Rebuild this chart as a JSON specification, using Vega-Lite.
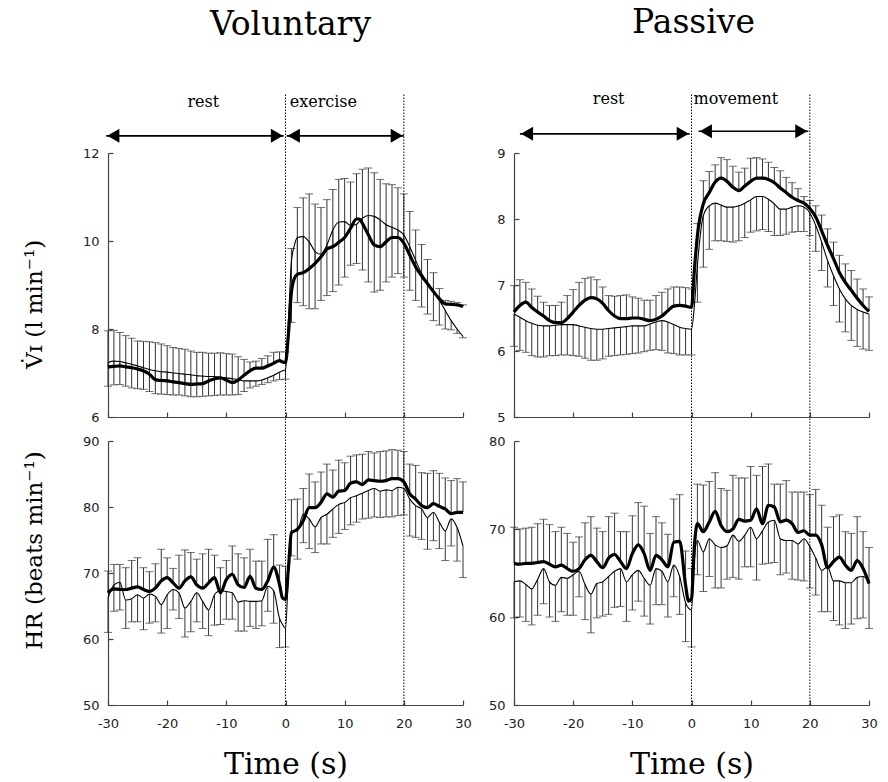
{
"$schema": "https://vega.github.io/schema/vega-lite/v6.json",
"padding": {"left": 22, "top": 7, "right": 5, "bottom": 0},
"background": "white",
"columns": 2,
"spacing": {"row": 24, "column": 51},
"bounds": "flush",
"datasets": {
"d": [
{"p":"VV","t":-30,"a":7.14,"au":7.96,"b":7.24,"bl":6.70},
{"p":"VV","t":-29,"a":7.15,"au":7.97,"b":7.27,"bl":6.73},
{"p":"VV","t":-28,"a":7.16,"au":7.92,"b":7.26,"bl":6.74},
{"p":"VV","t":-27,"a":7.14,"au":7.85,"b":7.23,"bl":6.70},
{"p":"VV","t":-26,"a":7.12,"au":7.79,"b":7.20,"bl":6.66},
{"p":"VV","t":-25,"a":7.09,"au":7.73,"b":7.16,"bl":6.64},
{"p":"VV","t":-24,"a":7.05,"au":7.72,"b":7.12,"bl":6.63},
{"p":"VV","t":-23,"a":6.97,"au":7.71,"b":7.08,"bl":6.58},
{"p":"VV","t":-22,"a":6.85,"au":7.69,"b":7.05,"bl":6.53},
{"p":"VV","t":-21,"a":6.83,"au":7.66,"b":7.03,"bl":6.52},
{"p":"VV","t":-20,"a":6.82,"au":7.62,"b":7.02,"bl":6.51},
{"p":"VV","t":-19,"a":6.80,"au":7.58,"b":7.00,"bl":6.50},
{"p":"VV","t":-18,"a":6.78,"au":7.56,"b":6.99,"bl":6.50},
{"p":"VV","t":-17,"a":6.76,"au":7.54,"b":6.97,"bl":6.48},
{"p":"VV","t":-16,"a":6.74,"au":7.50,"b":6.96,"bl":6.46},
{"p":"VV","t":-15,"a":6.75,"au":7.47,"b":6.94,"bl":6.46},
{"p":"VV","t":-14,"a":6.76,"au":7.47,"b":6.93,"bl":6.47},
{"p":"VV","t":-13,"a":6.82,"au":7.45,"b":6.92,"bl":6.48},
{"p":"VV","t":-12,"a":6.87,"au":7.45,"b":6.92,"bl":6.49},
{"p":"VV","t":-11,"a":6.89,"au":7.46,"b":6.90,"bl":6.50},
{"p":"VV","t":-10,"a":6.84,"au":7.44,"b":6.89,"bl":6.50},
{"p":"VV","t":-9,"a":6.78,"au":7.43,"b":6.87,"bl":6.50},
{"p":"VV","t":-8,"a":6.84,"au":7.37,"b":6.85,"bl":6.51},
{"p":"VV","t":-7,"a":6.95,"au":7.31,"b":6.82,"bl":6.58},
{"p":"VV","t":-6,"a":7.05,"au":7.25,"b":6.82,"bl":6.66},
{"p":"VV","t":-5,"a":7.11,"au":7.27,"b":6.82,"bl":6.70},
{"p":"VV","t":-4,"a":7.11,"au":7.33,"b":6.84,"bl":6.74},
{"p":"VV","t":-3,"a":7.16,"au":7.39,"b":6.89,"bl":6.78},
{"p":"VV","t":-2,"a":7.22,"au":7.47,"b":6.95,"bl":6.82},
{"p":"VV","t":-1,"a":7.28,"au":7.48,"b":7.02,"bl":6.85},
{"p":"VV","t":-0.5,"a":7.25,"b":7.05},
{"p":"VV","t":0,"a":7.24,"au":7.48,"b":7.07,"bl":6.86},
{"p":"VV","t":0.5,"a":7.9,"b":8.2},
{"p":"VV","t":1,"a":8.84,"au":9.83,"b":9.53,"bl":8.15},
{"p":"VV","t":1.5,"a":9.15,"b":9.9},
{"p":"VV","t":2,"a":9.24,"au":10.76,"b":10.08,"bl":8.6},
{"p":"VV","t":3,"a":9.28,"au":10.98,"b":10.1,"bl":8.53},
{"p":"VV","t":4,"a":9.37,"au":11.07,"b":9.98,"bl":8.46},
{"p":"VV","t":5,"a":9.49,"au":10.84,"b":9.76,"bl":8.46},
{"p":"VV","t":6,"a":9.64,"au":10.76,"b":9.7,"bl":8.65},
{"p":"VV","t":7,"a":9.82,"au":10.94,"b":9.91,"bl":8.76},
{"p":"VV","t":8,"a":9.87,"au":11.17,"b":10.25,"bl":8.85},
{"p":"VV","t":9,"a":9.97,"au":11.40,"b":10.43,"bl":9.0},
{"p":"VV","t":10,"a":10.08,"au":11.42,"b":10.44,"bl":9.18},
{"p":"VV","t":11,"a":10.29,"au":11.34,"b":10.35,"bl":9.45},
{"p":"VV","t":12,"a":10.50,"au":11.53,"b":10.38,"bl":9.49},
{"p":"VV","t":12.5,"a":10.5,"b":10.45},
{"p":"VV","t":13,"a":10.4,"au":11.63,"b":10.52,"bl":9.34},
{"p":"VV","t":14,"a":10.14,"au":11.66,"b":10.58,"bl":9.07},
{"p":"VV","t":15,"a":9.91,"au":11.55,"b":10.56,"bl":8.84},
{"p":"VV","t":16,"a":9.87,"au":11.40,"b":10.48,"bl":8.88},
{"p":"VV","t":17,"a":9.98,"au":11.30,"b":10.37,"bl":9.07},
{"p":"VV","t":18,"a":10.08,"au":11.28,"b":10.31,"bl":9.18},
{"p":"VV","t":19,"a":10.08,"au":11.21,"b":10.25,"bl":9.26},
{"p":"VV","t":20,"a":9.95,"au":11.07,"b":10.14,"bl":9.18},
{"p":"VV","t":21,"a":9.68,"au":10.67,"b":9.87,"bl":8.88},
{"p":"VV","t":22,"a":9.41,"au":10.25,"b":9.56,"bl":8.65},
{"p":"VV","t":23,"a":9.21,"au":9.92,"b":9.26,"bl":8.50},
{"p":"VV","t":24,"a":9.03,"au":9.58,"b":9.03,"bl":8.34},
{"p":"VV","t":25,"a":8.85,"au":9.28,"b":8.84,"bl":8.19},
{"p":"VV","t":26,"a":8.69,"au":8.92,"b":8.65,"bl":8.09},
{"p":"VV","t":27,"a":8.57,"au":8.65,"b":8.42,"bl":8.0},
{"p":"VV","t":28,"a":8.56,"au":8.63,"b":8.19,"bl":7.98},
{"p":"VV","t":29,"a":8.55,"au":8.6,"b":8.0,"bl":7.9},
{"p":"VV","t":30,"a":8.51,"au":8.55,"b":7.83,"bl":7.8},
{"p":"PV","t":-30,"a":6.59,"au":6.99,"b":6.56,"bl":6.07},
{"p":"PV","t":-29,"a":6.69,"au":7.08,"b":6.51,"bl":6.01},
{"p":"PV","t":-28,"a":6.74,"au":7.04,"b":6.46,"bl":5.98},
{"p":"PV","t":-27,"a":6.66,"au":6.94,"b":6.42,"bl":5.93},
{"p":"PV","t":-26,"a":6.59,"au":6.83,"b":6.39,"bl":5.91},
{"p":"PV","t":-25,"a":6.53,"au":6.74,"b":6.38,"bl":5.91},
{"p":"PV","t":-24,"a":6.46,"au":6.69,"b":6.38,"bl":5.93},
{"p":"PV","t":-23,"a":6.43,"au":6.69,"b":6.39,"bl":5.93},
{"p":"PV","t":-22,"a":6.43,"au":6.74,"b":6.40,"bl":5.94},
{"p":"PV","t":-21,"a":6.49,"au":6.84,"b":6.40,"bl":5.94},
{"p":"PV","t":-20,"a":6.59,"au":6.93,"b":6.40,"bl":5.93},
{"p":"PV","t":-19,"a":6.69,"au":7.04,"b":6.38,"bl":5.92},
{"p":"PV","t":-18,"a":6.77,"au":7.10,"b":6.36,"bl":5.89},
{"p":"PV","t":-17,"a":6.81,"au":7.12,"b":6.34,"bl":5.86},
{"p":"PV","t":-16,"a":6.79,"au":7.08,"b":6.33,"bl":5.86},
{"p":"PV","t":-15,"a":6.72,"au":6.97,"b":6.33,"bl":5.88},
{"p":"PV","t":-14,"a":6.61,"au":6.84,"b":6.34,"bl":5.92},
{"p":"PV","t":-13,"a":6.53,"au":6.83,"b":6.35,"bl":5.93},
{"p":"PV","t":-12,"a":6.49,"au":6.84,"b":6.36,"bl":5.94},
{"p":"PV","t":-11,"a":6.49,"au":6.85,"b":6.37,"bl":5.95},
{"p":"PV","t":-10,"a":6.50,"au":6.82,"b":6.38,"bl":5.96},
{"p":"PV","t":-9,"a":6.50,"au":6.80,"b":6.38,"bl":5.97},
{"p":"PV","t":-8,"a":6.48,"au":6.77,"b":6.38,"bl":5.99},
{"p":"PV","t":-7,"a":6.46,"au":6.77,"b":6.41,"bl":6.01},
{"p":"PV","t":-6,"a":6.48,"au":6.84,"b":6.44,"bl":6.02},
{"p":"PV","t":-5,"a":6.53,"au":6.89,"b":6.46,"bl":6.01},
{"p":"PV","t":-4,"a":6.61,"au":6.94,"b":6.44,"bl":5.97},
{"p":"PV","t":-3,"a":6.68,"au":6.97,"b":6.40,"bl":5.96},
{"p":"PV","t":-2,"a":6.69,"au":6.97,"b":6.36,"bl":5.94},
{"p":"PV","t":-1,"a":6.68,"au":6.96,"b":6.34,"bl":5.94},
{"p":"PV","t":0,"a":6.66,"au":6.94,"b":6.33,"bl":5.94},
{"p":"PV","t":0.5,"a":7.24,"b":6.7},
{"p":"PV","t":1,"a":7.75,"au":7.93,"b":7.30,"bl":6.74},
{"p":"PV","t":2,"a":8.23,"au":8.58,"b":8.05,"bl":7.27},
{"p":"PV","t":3,"a":8.40,"au":8.72,"b":8.20,"bl":7.54},
{"p":"PV","t":4,"a":8.56,"au":8.82,"b":8.24,"bl":7.67},
{"p":"PV","t":5,"a":8.62,"au":8.93,"b":8.21,"bl":7.67},
{"p":"PV","t":6,"a":8.57,"au":8.90,"b":8.18,"bl":7.66},
{"p":"PV","t":7,"a":8.48,"au":8.80,"b":8.18,"bl":7.65},
{"p":"PV","t":8,"a":8.43,"au":8.71,"b":8.20,"bl":7.67},
{"p":"PV","t":9,"a":8.50,"au":8.77,"b":8.24,"bl":7.72},
{"p":"PV","t":10,"a":8.57,"au":8.92,"b":8.29,"bl":7.80},
{"p":"PV","t":11,"a":8.62,"au":8.93,"b":8.34,"bl":7.82},
{"p":"PV","t":12,"a":8.62,"au":8.91,"b":8.34,"bl":7.84},
{"p":"PV","t":13,"a":8.60,"au":8.86,"b":8.30,"bl":7.81},
{"p":"PV","t":14,"a":8.55,"au":8.78,"b":8.23,"bl":7.75},
{"p":"PV","t":15,"a":8.47,"au":8.73,"b":8.15,"bl":7.75},
{"p":"PV","t":16,"a":8.40,"au":8.63,"b":8.15,"bl":7.77},
{"p":"PV","t":17,"a":8.33,"au":8.55,"b":8.18,"bl":7.80},
{"p":"PV","t":18,"a":8.28,"au":8.46,"b":8.20,"bl":7.81},
{"p":"PV","t":19,"a":8.24,"au":8.34,"b":8.18,"bl":7.81},
{"p":"PV","t":20,"a":8.16,"au":8.28,"b":8.09,"bl":7.75},
{"p":"PV","t":21,"a":8.03,"au":8.20,"b":7.90,"bl":7.51},
{"p":"PV","t":22,"a":7.82,"au":8.06,"b":7.65,"bl":7.22},
{"p":"PV","t":23,"a":7.60,"au":7.85,"b":7.37,"bl":6.97},
{"p":"PV","t":24,"a":7.40,"au":7.65,"b":7.14,"bl":6.69},
{"p":"PV","t":25,"a":7.19,"au":7.45,"b":6.94,"bl":6.44},
{"p":"PV","t":26,"a":7.04,"au":7.32,"b":6.79,"bl":6.29},
{"p":"PV","t":27,"a":6.92,"au":7.22,"b":6.69,"bl":6.16},
{"p":"PV","t":28,"a":6.80,"au":7.09,"b":6.63,"bl":6.07},
{"p":"PV","t":29,"a":6.69,"au":6.94,"b":6.59,"bl":6.03},
{"p":"PV","t":30,"a":6.60,"au":6.82,"b":6.56,"bl":6.01},
{"p":"VH","t":-30,"a":67.0,"au":70.3,"b":66.2,"bl":61.0},
{"p":"VH","t":-29,"a":67.6,"au":71.3,"b":68.2,"bl":64.2},
{"p":"VH","t":-28,"a":67.5,"au":71.3,"b":68.6,"bl":64.4},
{"p":"VH","t":-27,"a":67.5,"au":70.8,"b":65.9,"bl":61.6},
{"p":"VH","t":-26,"a":67.7,"au":71.9,"b":66.1,"bl":62.6},
{"p":"VH","t":-25,"a":67.9,"au":72.3,"b":66.7,"bl":62.6},
{"p":"VH","t":-24,"a":67.5,"au":70.8,"b":66.2,"bl":61.4},
{"p":"VH","t":-23,"a":67.2,"au":70.2,"b":66.8,"bl":62.4},
{"p":"VH","t":-22,"a":67.7,"au":71.4,"b":66.5,"bl":62.6},
{"p":"VH","t":-21,"a":68.8,"au":73.6,"b":65.2,"bl":60.9},
{"p":"VH","t":-20,"a":69.3,"au":72.3,"b":66.7,"bl":61.6},
{"p":"VH","t":-19,"a":68.5,"au":70.7,"b":67.5,"bl":64.4},
{"p":"VH","t":-18,"a":67.7,"au":72.7,"b":67.0,"bl":63.1},
{"p":"VH","t":-17,"a":68.8,"au":73.5,"b":64.7,"bl":60.3},
{"p":"VH","t":-16,"a":69.4,"au":73.1,"b":65.7,"bl":61.1},
{"p":"VH","t":-15,"a":68.2,"au":72.1,"b":67.0,"bl":62.6},
{"p":"VH","t":-14,"a":67.7,"au":72.9,"b":65.7,"bl":61.6},
{"p":"VH","t":-13,"a":68.5,"au":73.6,"b":64.4,"bl":60.5},
{"p":"VH","t":-12,"a":69.3,"au":72.7,"b":66.7,"bl":62.1},
{"p":"VH","t":-11,"a":67.0,"au":70.8,"b":67.3,"bl":62.2},
{"p":"VH","t":-10,"a":69.0,"au":71.9,"b":67.2,"bl":63.0},
{"p":"VH","t":-9,"a":69.8,"au":74.1,"b":67.0,"bl":63.0},
{"p":"VH","t":-8,"a":68.2,"au":72.9,"b":65.6,"bl":61.2},
{"p":"VH","t":-7,"a":67.8,"au":72.3,"b":65.8,"bl":61.2},
{"p":"VH","t":-6,"a":69.5,"au":73.6,"b":65.7,"bl":61.9},
{"p":"VH","t":-5,"a":67.7,"au":71.8,"b":65.7,"bl":61.6},
{"p":"VH","t":-4,"a":67.5,"au":71.8,"b":65.8,"bl":62.0},
{"p":"VH","t":-3,"a":68.8,"au":75.1,"b":68.0,"bl":64.2},
{"p":"VH","t":-2,"a":70.9,"au":75.8,"b":67.3,"bl":62.4},
{"p":"VH","t":-1,"a":68.2,"au":71.2,"b":63.1,"bl":58.7},
{"p":"VH","t":-0.5,"a":66.2,"b":62.2},
{"p":"VH","t":0,"a":66.0,"au":71.0,"b":61.6,"bl":58.8},
{"p":"VH","t":0.5,"a":70.8,"b":70.0},
{"p":"VH","t":1,"a":76.1,"au":81.1,"b":76.4,"bl":72.6},
{"p":"VH","t":2,"a":76.6,"au":81.2,"b":76.4,"bl":72.1},
{"p":"VH","t":3,"a":77.9,"au":82.8,"b":78.9,"bl":74.6},
{"p":"VH","t":4,"a":79.9,"au":85.0,"b":78.2,"bl":73.7},
{"p":"VH","t":5,"a":79.9,"au":83.8,"b":77.0,"bl":73.1},
{"p":"VH","t":6,"a":80.7,"au":85.3,"b":78.4,"bl":74.4},
{"p":"VH","t":7,"a":82.0,"au":86.5,"b":78.9,"bl":74.4},
{"p":"VH","t":8,"a":81.5,"au":85.6,"b":79.7,"bl":75.4},
{"p":"VH","t":9,"a":82.4,"au":87.1,"b":80.4,"bl":76.0},
{"p":"VH","t":10,"a":82.5,"au":86.7,"b":80.7,"bl":76.6},
{"p":"VH","t":11,"a":83.6,"au":87.7,"b":81.4,"bl":77.3},
{"p":"VH","t":12,"a":83.8,"au":87.9,"b":81.7,"bl":77.7},
{"p":"VH","t":13,"a":83.4,"au":88.0,"b":82.1,"bl":78.2},
{"p":"VH","t":14,"a":84.1,"au":88.4,"b":82.5,"bl":78.3},
{"p":"VH","t":15,"a":84.0,"au":88.2,"b":82.8,"bl":78.5},
{"p":"VH","t":16,"a":83.9,"au":88.4,"b":82.4,"bl":78.4},
{"p":"VH","t":17,"a":84.0,"au":88.5,"b":82.6,"bl":78.5},
{"p":"VH","t":18,"a":84.3,"au":88.7,"b":82.5,"bl":78.5},
{"p":"VH","t":19,"a":84.3,"au":88.6,"b":83.0,"bl":78.7},
{"p":"VH","t":20,"a":83.8,"au":88.4,"b":82.8,"bl":78.8},
{"p":"VH","t":21,"a":82.0,"au":86.5,"b":81.2,"bl":75.6},
{"p":"VH","t":22,"a":81.2,"au":86.3,"b":80.2,"bl":75.4},
{"p":"VH","t":23,"a":80.2,"au":85.2,"b":79.7,"bl":75.1},
{"p":"VH","t":24,"a":79.9,"au":85.1,"b":78.4,"bl":73.6},
{"p":"VH","t":25,"a":80.5,"au":85.5,"b":79.2,"bl":74.9},
{"p":"VH","t":26,"a":80.1,"au":85.1,"b":77.7,"bl":73.7},
{"p":"VH","t":27,"a":79.7,"au":84.4,"b":76.4,"bl":71.9},
{"p":"VH","t":28,"a":79.0,"au":84.0,"b":78.2,"bl":74.1},
{"p":"VH","t":29,"a":79.2,"au":84.3,"b":76.9,"bl":71.8},
{"p":"VH","t":30,"a":79.2,"au":83.8,"b":74.1,"bl":69.3},
{"p":"PH","t":-30,"a":66.1,"au":70.2,"b":64.0,"bl":59.9},
{"p":"PH","t":-29,"a":66.0,"au":70.0,"b":64.1,"bl":60.0},
{"p":"PH","t":-28,"a":66.1,"au":70.1,"b":63.7,"bl":59.5},
{"p":"PH","t":-27,"a":66.1,"au":70.2,"b":63.2,"bl":59.1},
{"p":"PH","t":-26,"a":66.2,"au":70.6,"b":64.3,"bl":60.2},
{"p":"PH","t":-25,"a":66.3,"au":71.1,"b":65.5,"bl":61.5},
{"p":"PH","t":-24,"a":66.0,"au":70.5,"b":64.0,"bl":60.0},
{"p":"PH","t":-23,"a":65.7,"au":69.7,"b":63.6,"bl":59.5},
{"p":"PH","t":-22,"a":65.9,"au":70.2,"b":64.5,"bl":60.6},
{"p":"PH","t":-21,"a":65.5,"au":69.5,"b":64.4,"bl":60.2},
{"p":"PH","t":-20,"a":65.2,"au":68.5,"b":64.8,"bl":60.2},
{"p":"PH","t":-19,"a":65.5,"au":69.1,"b":65.2,"bl":62.3},
{"p":"PH","t":-18,"a":66.5,"au":70.7,"b":63.7,"bl":59.7},
{"p":"PH","t":-17,"a":67.0,"au":71.4,"b":62.6,"bl":58.2},
{"p":"PH","t":-16,"a":66.3,"au":70.1,"b":63.8,"bl":59.9},
{"p":"PH","t":-15,"a":65.6,"au":69.7,"b":64.0,"bl":60.1},
{"p":"PH","t":-14,"a":66.7,"au":71.4,"b":64.6,"bl":60.3},
{"p":"PH","t":-13,"a":67.1,"au":71.8,"b":65.2,"bl":61.1},
{"p":"PH","t":-12,"a":66.3,"au":69.7,"b":65.5,"bl":61.2},
{"p":"PH","t":-11,"a":65.5,"au":69.7,"b":64.0,"bl":59.5},
{"p":"PH","t":-10,"a":67.2,"au":71.5,"b":64.8,"bl":60.8},
{"p":"PH","t":-9,"a":68.2,"au":73.0,"b":65.3,"bl":61.8},
{"p":"PH","t":-8,"a":67.2,"au":72.6,"b":64.4,"bl":60.1},
{"p":"PH","t":-7,"a":65.3,"au":69.5,"b":63.6,"bl":59.2},
{"p":"PH","t":-6,"a":67.0,"au":71.4,"b":65.5,"bl":61.4},
{"p":"PH","t":-5,"a":66.5,"au":70.7,"b":65.2,"bl":61.4},
{"p":"PH","t":-4,"a":65.7,"au":69.4,"b":64.0,"bl":60.0},
{"p":"PH","t":-3,"a":68.5,"au":73.4,"b":65.9,"bl":62.3},
{"p":"PH","t":-2,"a":68.6,"au":73.9,"b":64.6,"bl":60.3},
{"p":"PH","t":-1,"a":63.6,"au":67.5,"b":61.6,"bl":57.2},
{"p":"PH","t":-0.5,"a":61.8,"b":61.0},
{"p":"PH","t":0,"a":62.1,"au":65.5,"b":60.8,"bl":56.6},
{"p":"PH","t":0.5,"a":68.2,"b":66.7},
{"p":"PH","t":1,"a":70.6,"au":75.1,"b":68.7,"bl":64.8},
{"p":"PH","t":2,"a":69.7,"au":75.0,"b":67.4,"bl":62.9},
{"p":"PH","t":3,"a":70.8,"au":75.4,"b":68.9,"bl":64.6},
{"p":"PH","t":4,"a":72.0,"au":76.4,"b":68.2,"bl":63.3},
{"p":"PH","t":5,"a":70.4,"au":74.6,"b":67.9,"bl":63.3},
{"p":"PH","t":6,"a":69.7,"au":74.4,"b":68.1,"bl":64.3},
{"p":"PH","t":7,"a":70.0,"au":76.1,"b":69.3,"bl":64.5},
{"p":"PH","t":8,"a":71.1,"au":75.8,"b":68.6,"bl":64.3},
{"p":"PH","t":9,"a":70.9,"au":75.8,"b":69.3,"bl":65.7},
{"p":"PH","t":10,"a":71.0,"au":77.1,"b":70.2,"bl":65.7},
{"p":"PH","t":11,"a":72.3,"au":76.1,"b":68.9,"bl":64.2},
{"p":"PH","t":12,"a":70.6,"au":77.1,"b":69.8,"bl":66.0},
{"p":"PH","t":13,"a":72.7,"au":77.4,"b":70.8,"bl":66.1},
{"p":"PH","t":14,"a":72.5,"au":75.1,"b":71.0,"bl":66.2},
{"p":"PH","t":15,"a":70.8,"au":75.1,"b":68.9,"bl":64.8},
{"p":"PH","t":16,"a":71.0,"au":75.5,"b":68.7,"bl":65.0},
{"p":"PH","t":17,"a":70.6,"au":74.2,"b":68.7,"bl":64.3},
{"p":"PH","t":18,"a":69.6,"au":74.2,"b":68.3,"bl":64.2},
{"p":"PH","t":19,"a":69.8,"au":74.2,"b":68.9,"bl":64.1},
{"p":"PH","t":20,"a":69.3,"au":73.9,"b":68.0,"bl":63.3},
{"p":"PH","t":21,"a":69.3,"au":74.5,"b":66.7,"bl":62.5},
{"p":"PH","t":22,"a":68.2,"au":72.7,"b":65.3,"bl":60.6},
{"p":"PH","t":23,"a":65.6,"au":70.2,"b":65.7,"bl":60.6},
{"p":"PH","t":24,"a":66.3,"au":71.4,"b":64.1,"bl":59.6},
{"p":"PH","t":25,"a":66.8,"au":71.6,"b":64.1,"bl":59.1},
{"p":"PH","t":26,"a":65.9,"au":69.7,"b":63.9,"bl":58.7},
{"p":"PH","t":27,"a":65.3,"au":69.5,"b":63.9,"bl":59.2},
{"p":"PH","t":28,"a":66.4,"au":71.4,"b":64.5,"bl":59.8},
{"p":"PH","t":29,"a":65.5,"au":69.7,"b":64.6,"bl":59.9},
{"p":"PH","t":30,"a":63.8,"au":67.9,"b":64.0,"bl":58.7}
],
"v": [
{"p":"VV","t":0,"y1":6,"y2":13.36},{"p":"VV","t":20,"y1":6,"y2":13.36},
{"p":"PV","t":0,"y1":5,"y2":9.91},{"p":"PV","t":20,"y1":5,"y2":9.91},
{"p":"VH","t":0,"y1":50,"y2":93.64},{"p":"VH","t":20,"y1":50,"y2":93.64},
{"p":"PH","t":0,"y1":50,"y2":82.73},{"p":"PH","t":20,"y1":50,"y2":82.73}
],
"ar": [
{"p":"VV","t":-30.3,"t2":-0.3,"y":12.39},{"p":"VV","t":0.2,"t2":20,"y":12.39},
{"p":"PV","t":-29,"t2":-0.3,"y":9.29},{"p":"PV","t":1.2,"t2":19.75,"y":9.33}
],
"hd": [
{"p":"VV","t":-29.1,"y":12.39,"sh":"triangle-left"},{"p":"VV","t":-1.45,"y":12.39,"sh":"triangle-right"},
{"p":"VV","t":1.4,"y":12.39,"sh":"triangle-left"},{"p":"VV","t":18.8,"y":12.39,"sh":"triangle-right"},
{"p":"PV","t":-27.8,"y":9.29,"sh":"triangle-left"},{"p":"PV","t":-1.48,"y":9.29,"sh":"triangle-right"},
{"p":"PV","t":2.43,"y":9.33,"sh":"triangle-left"},{"p":"PV","t":18.56,"y":9.33,"sh":"triangle-right"}
],
"lb": [
{"p":"VV","t":-13.9,"y":13.05,"tx":"rest"},{"p":"VV","t":6.4,"y":13.05,"tx":"exercise"},
{"p":"PV","t":-14,"y":9.74,"tx":"rest"},{"p":"PV","t":7.5,"y":9.74,"tx":"movement"}
]
},
"concat": [
{
"width": 355, "height": 264,
"title": {"text": "Voluntary", "dx": 5},
"encoding": {"x": {"field": "t", "type": "quantitative", "scale": {"domain": [-30, 30], "nice": false, "zero": false}, "axis": {"values": [-30,-20,-10,0,10,20,30], "labels": false, "title": null}}},
"layer": [
{"data": {"name": "d"}, "transform": [{"filter": "datum.p == 'VV' && isValid(datum.bl)"}], "mark": {"type": "rule", "color": "#333", "strokeWidth": 1}, "encoding": {"y": {"field": "b", "type": "quantitative", "scale": {"domain": [6, 12], "nice": false, "zero": false}, "axis": {"values": [6,8,10,12], "format": "d", "title": "V̇ɪ (l min⁻¹)", "titleFontSize": 23, "titleX": -62, "titleY": 151, "titleBaseline": "bottom"}}, "y2": {"field": "bl"}}},
{"data": {"name": "d"}, "transform": [{"filter": "datum.p == 'VV' && isValid(datum.bl)"}], "mark": {"type": "tick", "orient": "horizontal", "size": 8, "thickness": 1, "color": "#333"}, "encoding": {"y": {"field": "bl", "type": "quantitative"}}},
{"data": {"name": "d"}, "transform": [{"filter": "datum.p == 'VV' && isValid(datum.au)"}], "mark": {"type": "rule", "color": "#333", "strokeWidth": 1}, "encoding": {"y": {"field": "a", "type": "quantitative"}, "y2": {"field": "au"}}},
{"data": {"name": "d"}, "transform": [{"filter": "datum.p == 'VV' && isValid(datum.au)"}], "mark": {"type": "tick", "orient": "horizontal", "size": 8, "thickness": 1, "color": "#333"}, "encoding": {"y": {"field": "au", "type": "quantitative"}}},
{"data": {"name": "d"}, "transform": [{"filter": "datum.p == 'VV'"}], "mark": {"type": "line", "color": "#000", "strokeWidth": 1.1, "interpolate": "monotone"}, "encoding": {"y": {"field": "b", "type": "quantitative"}}},
{"data": {"name": "d"}, "transform": [{"filter": "datum.p == 'VV'"}], "mark": {"type": "line", "color": "#000", "strokeWidth": 3.2, "interpolate": "monotone"}, "encoding": {"y": {"field": "a", "type": "quantitative"}}},
{"data": {"name": "v"}, "transform": [{"filter": "datum.p == 'VV'"}], "mark": {"type": "rule", "color": "#000", "strokeWidth": 1, "strokeDash": [1.5, 1.5]}, "encoding": {"y": {"field": "y1", "type": "quantitative"}, "y2": {"field": "y2"}}},
{"data": {"name": "ar"}, "transform": [{"filter": "datum.p == 'VV'"}], "mark": {"type": "rule", "color": "#000", "strokeWidth": 1.6}, "encoding": {"x2": {"field": "t2"}, "y": {"field": "y", "type": "quantitative"}}},
{"data": {"name": "hd"}, "transform": [{"filter": "datum.p == 'VV'"}], "mark": {"type": "point", "filled": true, "color": "#000", "size": 196, "opacity": 1}, "encoding": {"y": {"field": "y", "type": "quantitative"}, "shape": {"field": "sh", "type": "nominal", "scale": null}}},
{"data": {"name": "lb"}, "transform": [{"filter": "datum.p == 'VV'"}], "mark": {"type": "text", "font": "DejaVu Serif", "fontSize": 16, "align": "center", "baseline": "alphabetic", "color": "#000"}, "encoding": {"y": {"field": "y", "type": "quantitative"}, "text": {"field": "tx"}}}
]
},
{
"width": 355, "height": 264,
"title": {"text": "Passive", "dx": 2},
"encoding": {"x": {"field": "t", "type": "quantitative", "scale": {"domain": [-30, 30], "nice": false, "zero": false}, "axis": {"values": [-30,-20,-10,0,10,20,30], "labels": false, "title": null}}},
"layer": [
{"data": {"name": "d"}, "transform": [{"filter": "datum.p == 'PV' && isValid(datum.bl)"}], "mark": {"type": "rule", "color": "#333", "strokeWidth": 1}, "encoding": {"y": {"field": "b", "type": "quantitative", "scale": {"domain": [5, 9], "nice": false, "zero": false}, "axis": {"values": [5,6,7,8,9], "format": "d", "title": null}}, "y2": {"field": "bl"}}},
{"data": {"name": "d"}, "transform": [{"filter": "datum.p == 'PV' && isValid(datum.bl)"}], "mark": {"type": "tick", "orient": "horizontal", "size": 8, "thickness": 1, "color": "#333"}, "encoding": {"y": {"field": "bl", "type": "quantitative"}}},
{"data": {"name": "d"}, "transform": [{"filter": "datum.p == 'PV' && isValid(datum.au)"}], "mark": {"type": "rule", "color": "#333", "strokeWidth": 1}, "encoding": {"y": {"field": "a", "type": "quantitative"}, "y2": {"field": "au"}}},
{"data": {"name": "d"}, "transform": [{"filter": "datum.p == 'PV' && isValid(datum.au)"}], "mark": {"type": "tick", "orient": "horizontal", "size": 8, "thickness": 1, "color": "#333"}, "encoding": {"y": {"field": "au", "type": "quantitative"}}},
{"data": {"name": "d"}, "transform": [{"filter": "datum.p == 'PV'"}], "mark": {"type": "line", "color": "#000", "strokeWidth": 1.1, "interpolate": "monotone"}, "encoding": {"y": {"field": "b", "type": "quantitative"}}},
{"data": {"name": "d"}, "transform": [{"filter": "datum.p == 'PV'"}], "mark": {"type": "line", "color": "#000", "strokeWidth": 3.2, "interpolate": "monotone"}, "encoding": {"y": {"field": "a", "type": "quantitative"}}},
{"data": {"name": "v"}, "transform": [{"filter": "datum.p == 'PV'"}], "mark": {"type": "rule", "color": "#000", "strokeWidth": 1, "strokeDash": [1.5, 1.5]}, "encoding": {"y": {"field": "y1", "type": "quantitative"}, "y2": {"field": "y2"}}},
{"data": {"name": "ar"}, "transform": [{"filter": "datum.p == 'PV'"}], "mark": {"type": "rule", "color": "#000", "strokeWidth": 1.6}, "encoding": {"x2": {"field": "t2"}, "y": {"field": "y", "type": "quantitative"}}},
{"data": {"name": "hd"}, "transform": [{"filter": "datum.p == 'PV'"}], "mark": {"type": "point", "filled": true, "color": "#000", "size": 196, "opacity": 1}, "encoding": {"y": {"field": "y", "type": "quantitative"}, "shape": {"field": "sh", "type": "nominal", "scale": null}}},
{"data": {"name": "lb"}, "transform": [{"filter": "datum.p == 'PV'"}], "mark": {"type": "text", "font": "DejaVu Serif", "fontSize": 16, "align": "center", "baseline": "alphabetic", "color": "#000"}, "encoding": {"y": {"field": "y", "type": "quantitative"}, "text": {"field": "tx"}}}
]
},
{
"width": 355, "height": 264,
"encoding": {"x": {"field": "t", "type": "quantitative", "scale": {"domain": [-30, 30], "nice": false, "zero": false}, "axis": {"values": [-30,-20,-10,0,10,20,30], "labelExpr": "datum.value + ''", "title": "Time (s)", "titleFontSize": 30, "titleBaseline": "alphabetic", "titleY": 68}}},
"layer": [
{"data": {"name": "d"}, "transform": [{"filter": "datum.p == 'VH' && isValid(datum.bl)"}], "mark": {"type": "rule", "color": "#333", "strokeWidth": 1}, "encoding": {"y": {"field": "b", "type": "quantitative", "scale": {"domain": [50, 90], "nice": false, "zero": false}, "axis": {"values": [50,60,70,80,90], "format": "d", "title": "HR (beats min⁻¹)", "titleFontSize": 23, "titleX": -62, "titleY": 109, "titleBaseline": "bottom"}}, "y2": {"field": "bl"}}},
{"data": {"name": "d"}, "transform": [{"filter": "datum.p == 'VH' && isValid(datum.bl)"}], "mark": {"type": "tick", "orient": "horizontal", "size": 8, "thickness": 1, "color": "#333"}, "encoding": {"y": {"field": "bl", "type": "quantitative"}}},
{"data": {"name": "d"}, "transform": [{"filter": "datum.p == 'VH' && isValid(datum.au)"}], "mark": {"type": "rule", "color": "#333", "strokeWidth": 1}, "encoding": {"y": {"field": "a", "type": "quantitative"}, "y2": {"field": "au"}}},
{"data": {"name": "d"}, "transform": [{"filter": "datum.p == 'VH' && isValid(datum.au)"}], "mark": {"type": "tick", "orient": "horizontal", "size": 8, "thickness": 1, "color": "#333"}, "encoding": {"y": {"field": "au", "type": "quantitative"}}},
{"data": {"name": "d"}, "transform": [{"filter": "datum.p == 'VH'"}], "mark": {"type": "line", "color": "#000", "strokeWidth": 1.1, "interpolate": "monotone"}, "encoding": {"y": {"field": "b", "type": "quantitative"}}},
{"data": {"name": "d"}, "transform": [{"filter": "datum.p == 'VH'"}], "mark": {"type": "line", "color": "#000", "strokeWidth": 3.2, "interpolate": "monotone"}, "encoding": {"y": {"field": "a", "type": "quantitative"}}},
{"data": {"name": "v"}, "transform": [{"filter": "datum.p == 'VH'"}], "mark": {"type": "rule", "color": "#000", "strokeWidth": 1, "strokeDash": [1.5, 1.5]}, "encoding": {"y": {"field": "y1", "type": "quantitative"}, "y2": {"field": "y2"}}}
]
},
{
"width": 355, "height": 264,
"encoding": {"x": {"field": "t", "type": "quantitative", "scale": {"domain": [-30, 30], "nice": false, "zero": false}, "axis": {"values": [-30,-20,-10,0,10,20,30], "labelExpr": "datum.value + ''", "title": "Time (s)", "titleFontSize": 30, "titleBaseline": "alphabetic", "titleY": 68}}},
"layer": [
{"data": {"name": "d"}, "transform": [{"filter": "datum.p == 'PH' && isValid(datum.bl)"}], "mark": {"type": "rule", "color": "#333", "strokeWidth": 1}, "encoding": {"y": {"field": "b", "type": "quantitative", "scale": {"domain": [50, 80], "nice": false, "zero": false}, "axis": {"values": [50,60,70,80], "format": "d", "title": null}}, "y2": {"field": "bl"}}},
{"data": {"name": "d"}, "transform": [{"filter": "datum.p == 'PH' && isValid(datum.bl)"}], "mark": {"type": "tick", "orient": "horizontal", "size": 8, "thickness": 1, "color": "#333"}, "encoding": {"y": {"field": "bl", "type": "quantitative"}}},
{"data": {"name": "d"}, "transform": [{"filter": "datum.p == 'PH' && isValid(datum.au)"}], "mark": {"type": "rule", "color": "#333", "strokeWidth": 1}, "encoding": {"y": {"field": "a", "type": "quantitative"}, "y2": {"field": "au"}}},
{"data": {"name": "d"}, "transform": [{"filter": "datum.p == 'PH' && isValid(datum.au)"}], "mark": {"type": "tick", "orient": "horizontal", "size": 8, "thickness": 1, "color": "#333"}, "encoding": {"y": {"field": "au", "type": "quantitative"}}},
{"data": {"name": "d"}, "transform": [{"filter": "datum.p == 'PH'"}], "mark": {"type": "line", "color": "#000", "strokeWidth": 1.1, "interpolate": "monotone"}, "encoding": {"y": {"field": "b", "type": "quantitative"}}},
{"data": {"name": "d"}, "transform": [{"filter": "datum.p == 'PH'"}], "mark": {"type": "line", "color": "#000", "strokeWidth": 3.2, "interpolate": "monotone"}, "encoding": {"y": {"field": "a", "type": "quantitative"}}},
{"data": {"name": "v"}, "transform": [{"filter": "datum.p == 'PH'"}], "mark": {"type": "rule", "color": "#000", "strokeWidth": 1, "strokeDash": [1.5, 1.5]}, "encoding": {"y": {"field": "y1", "type": "quantitative"}, "y2": {"field": "y2"}}}
]
}
],
"config": {
"view": {"stroke": null},
"axis": {"grid": false, "domainColor": "#444", "domainWidth": 1.2, "tickColor": "#444", "tickWidth": 1.2, "tickSize": -5, "labelFont": "DejaVu Sans", "labelFontSize": 13, "labelColor": "#222", "titleFont": "DejaVu Serif", "titleFontWeight": "normal", "titleColor": "#000"},
"axisX": {"labelPadding": 17, "labelFlush": false},
"axisY": {"labelPadding": 14},
"title": {"font": "DejaVu Serif", "fontWeight": "normal", "fontSize": 33, "frame": "group", "offset": 51, "color": "#000", "anchor": "middle"}
}
}
